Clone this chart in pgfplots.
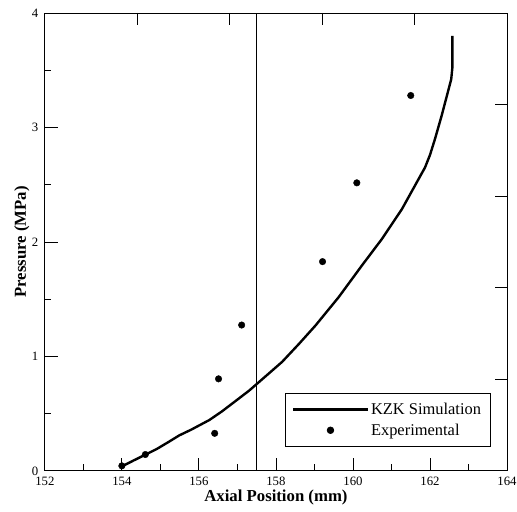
\documentclass[border=0pt]{standalone}
\usepackage{pgfplots}
\pgfplotsset{compat=1.18}
\usepackage{fontspec}
\setmainfont{Liberation Serif}
\begin{document}
\begin{tikzpicture}
\path[use as bounding box] (-45bp,-40.3bp) rectangle (474bp,472.7bp);
\begin{axis}[
  scale only axis, width=464bp, height=459.7bp,
  anchor=south west, at={(0,0)},
  xmin=152, xmax=164, ymin=0, ymax=4,
  xtick={152,154,...,164}, ytick={0,1,2,3,4},
  minor x tick num=1, minor y tick num=1,
  xtick pos=left, ytick pos=left, tick align=inside,
  major tick length=13bp, minor tick length=6.5bp,
  axis line style={line width=0.8bp},
  every tick/.style={line width=0.8bp, black},
  /pgf/number format/assume math mode=true,
  /pgf/number format/1000 sep={},
  ticklabel style={font=\fontsize{12.8bp}{15bp}\selectfont},
  xticklabel style={yshift=-3bp},
  yticklabel style={xshift=-3bp},
  xlabel={\textbf{Axial Position (mm)}},
  ylabel={\textbf{Pressure (MPa)}},
  label style={font=\fontsize{16.8bp}{19bp}\selectfont},
  xlabel style={at={(axis description cs:0.5,-0.067)}, anchor=base},
  ylabel style={at={(axis description cs:-0.041,0.5)}, anchor=base, rotate=0},
  legend style={at={(axis description cs:0.964,0.052)}, anchor=south east,
    draw=black, line width=0.8bp, font=\fontsize{16.5bp}{19bp}\selectfont,
    inner xsep=7bp, inner ysep=8bp, row sep=4bp,
    cells={anchor=west}},
  legend cell align=left,
]
\addplot[black, line width=2.4bp, line join=round,
  legend image code/.code={\draw[black, line width=2.4bp] (0bp,0bp) -- (75bp,0bp);}]
  coordinates {
(154.03,0.044) (154.3,0.09) (154.63,0.145) (154.9,0.19) (155.2,0.25)
(155.49,0.31) (155.8,0.36) (156.27,0.444) (156.6,0.52) (157.04,0.633) (157.3,0.70)
(157.54,0.77) (158.16,0.952) (158.6,1.11) (159.03,1.271) (159.63,1.518)
(160.23,1.793) (160.75,2.025) (161.27,2.286) (161.70,2.547) (161.87,2.65)
(162.0,2.76) (162.13,2.9) (162.30,3.10) (162.48,3.33)
(162.55,3.42) (162.58,3.52) (162.58,3.80)
  };
\addlegendentry{KZK Simulation}
\addplot[only marks, mark=*, mark size=3.3bp, black,
  legend image code/.code={\fill[black] (37.5bp,0bp) circle (3.3bp);}]
  coordinates {
(154.0,0.044) (154.61,0.143) (156.41,0.328) (156.51,0.804) (157.11,1.274)
(159.21,1.828) (160.10,2.516) (161.50,3.279)
  };
\addlegendentry{Experimental}
\draw[black, line width=0.9bp] (axis cs:157.5,0) -- (axis cs:157.5,4);
\end{axis}
\begin{axis}[
  scale only axis, width=464bp, height=459.7bp,
  anchor=south west, at={(0,0)},
  xmin=152, xmax=164, ymin=0, ymax=4,
  xtick={154.4,156.8,159.2,161.6}, ytick={0.8,1.6,2.4,3.2},
  xtick pos=right, ytick pos=right, tick align=inside,
  major tick length=12bp,
  axis line style={line width=0.8bp},
  every tick/.style={line width=0.8bp, black},
  xticklabels={}, yticklabels={},
]
\end{axis}
\end{tikzpicture}
\end{document}
